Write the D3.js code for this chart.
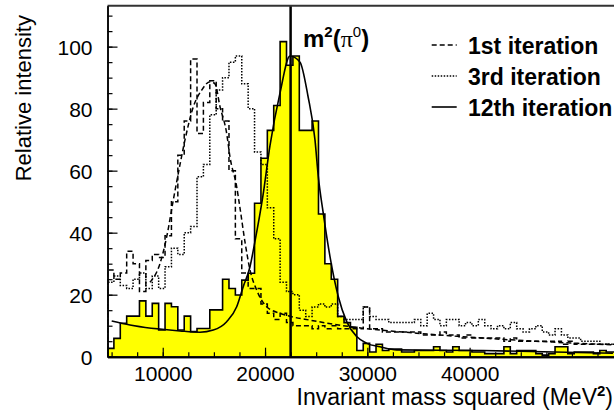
<!DOCTYPE html>
<html><head><meta charset="utf-8">
<script src="https://cdn.jsdelivr.net/npm/d3@7"></script>
<style>body{margin:0;background:#fff} svg{display:block} text{font-family:"Liberation Sans",Arial,Helvetica,sans-serif}</style>
</head><body><svg id="c" width="614" height="412"></svg>
<script>
// ---- data ----
const binStart = 4600, binWidth = 625;
const iter12 = [2.7,5.9,10.8,13.1,13.1,18,13.1,17.2,8.6,17.2,
  16.1,8.6,13.1,8.1,9.1,9.1,15.1,15.1,25,22,
  19.9,24.7,26.9,49.5,64,73,81,101.6,94,97,
  73,73,76,46,30,25,13,11,9.5,2,
  4.3,1.5,4,2,2.5,2.5,1.5,1.5,2,2,
  2,3.2,2,1.5,3.2,2,2,1.5,1.5,1,
  1,1,3.2,1,2,2,2,1,0.5,1,
  3.2,3.2,1,1.5,1.5,1.5,1,2,1.5,1.5];
const iter1 = [28,25,27,34,30,21,31,33,32,39,
  50,65,76,96,72,82,89,80,76,60,
  38,27,22,22,17,14,12,14,11,10,
  10,10,9,10,9,10,9,9,9,9,
  16,9,9,8,8,8,8,8,8,7,
  7,7,8,7,7,6,7,6,6,6,
  6,6,5,6,5,5,5,5,5,5,
  5,4,5,4,4,4,4,4,4,4];
const iter3 = [24,26,23,22,25,27,22,26,22,29,
  35,33,40,42,58,62,78,86,90,95,
  97,88,80,66,62,48,38,24,21,20,
  15,13,16,17,16,17,13,12,12,12,
  16,13,12,12,11,11,11,11,12,10,
  14,12,10,12,12,10,11,10,12,10,
  9,10,9,11,9,8,9,10,8,7,
  9,7,6,6,5,5,5,4,4,4];
const fit12X = [5010,6800,11690,13640,14940,16250,17230,17870,18530,18920,19800,20480,21460,22440,23420,24200,24880,25210,25690,26350,27160,27980,28960,29940,31240,32870,41300,54010];
const fit12Y = [11.5,10.2,8.3,7.9,8.6,11.3,16.1,22.6,29,35.5,52,68,85,97,95,84,70,58,46.3,32.3,19.4,11.3,6.5,4.3,3.2,2.2,2.0,1.1];
const fit1X = [8750,9730,10390,11030,11690,12180,12990,13810,14620,15110,15600,16250,16570,17230,17550,18040,18530,19180,20160,21460,22610,24390,28300,34820,41300,54010];
const fit1Y = [24,30,38.7,50.5,62,70,80.6,86,88.7,88,80.6,72,64.5,54.8,48,37,28,21.5,16.1,14,12.9,11.8,9.7,7.6,6,3.8];
const xTickLabels = [10000,20000,30000,40000];
const yTickLabels = [0,20,40,60,80,100];
const mPi0Sq = 22500;
const legendLabels = ["1st iteration","3rd iteration","12th iteration"];
const legendDash = ["5,3","1.5,1.5",null];

// ---- layout ----
const svg = d3.select("#c");
svg.append("rect").attr("width",614).attr("height",412).attr("fill","#fff");
const x = d3.scaleLinear().domain([4600, 54700]).range([107.5, 620]);
const y = d3.scaleLinear().domain([0, 113.2]).range([356.7, 5.7]);
svg.append("clipPath").attr("id","pc").append("rect")
  .attr("x",107.5).attr("y",5.7).attr("width",520).attr("height",351);
const g = svg.append("g").attr("clip-path","url(#pc)");

function histPts(vals){
  const p=[[binStart,0]];
  vals.forEach((v,i)=>p.push([binStart+i*binWidth,v]));
  p.push([binStart+vals.length*binWidth, vals[vals.length-1]]);
  p.push([binStart+vals.length*binWidth, 0]);
  return p;
}
const stepLine = d3.line().curve(d3.curveStepAfter).x(d=>x(d[0])).y(d=>y(d[1]));
const area = d3.area().curve(d3.curveStepAfter).x(d=>x(d[0])).y0(y(0)).y1(d=>y(d[1]));
const pts12 = iter12.map((v,i)=>[binStart+i*binWidth,v]); pts12.push([binStart+iter12.length*binWidth, iter12[iter12.length-1]]);
g.append("path").attr("d",area(pts12)).attr("fill","#ffff00");
g.append("path").attr("d",stepLine(histPts(iter12))).attr("fill","none").attr("stroke","#000").attr("stroke-width",1.6);
g.append("path").attr("d",stepLine(histPts(iter1))).attr("fill","none").attr("stroke","#000").attr("stroke-width",1.5).attr("stroke-dasharray","5,3");
g.append("path").attr("d",stepLine(histPts(iter3))).attr("fill","none").attr("stroke","#000").attr("stroke-width",1.5).attr("stroke-dasharray","1.5,1.5");
const curve = d3.line().curve(d3.curveMonotoneX).x(d=>x(d[0])).y(d=>y(d[1]));
g.append("path").attr("d",curve(fit1X.map((v,i)=>[v,fit1Y[i]]))).attr("fill","none").attr("stroke","#000").attr("stroke-width",1.5).attr("stroke-dasharray","5,3");
g.append("path").attr("d",curve(fit12X.map((v,i)=>[v,fit12Y[i]]))).attr("fill","none").attr("stroke","#000").attr("stroke-width",1.6);
// m^2(pi0) line
svg.append("line").attr("x1",x(mPi0Sq)).attr("x2",x(mPi0Sq)).attr("y1",y(0)).attr("y2",y(113.2)).attr("stroke","#000").attr("stroke-width",2.5);

// frame
svg.append("line").attr("x1",107.5).attr("x2",614).attr("y1",5.7).attr("y2",5.7).attr("stroke","#333").attr("stroke-width",2);

// axes
const minorX = d3.range(5000, 54000, 2500);
const xMinor = d3.axisBottom(x).tickValues(minorX).tickSizeInner(-4.5).tickSizeOuter(0).tickFormat("");
const xMajor = d3.axisBottom(x).tickValues(xTickLabels).tickSizeInner(-9).tickSizeOuter(0).tickFormat(d3.format("d"));
const gx1 = svg.append("g").attr("transform",`translate(0,${y(0)})`).call(xMinor);
const gx2 = svg.append("g").attr("transform",`translate(0,${y(0)})`).call(xMajor);
[gx1,gx2].forEach(a=>{a.selectAll(".tick line").attr("stroke","#000").attr("stroke-width",1.2); a.select(".domain").attr("stroke","#000").attr("stroke-width",2);});
gx2.selectAll(".tick text").attr("font-size",21).attr("fill","#000").attr("dy",0).attr("y",24);

const yMinor = d3.axisLeft(y).tickValues(d3.range(0,113,5)).tickSizeInner(-5).tickSizeOuter(0).tickFormat("");
const yMajor = d3.axisLeft(y).tickValues(yTickLabels).tickSizeInner(-10).tickSizeOuter(0).tickFormat(d3.format("d"));
const gy1 = svg.append("g").attr("transform","translate(107.5,0)").call(yMinor);
const gy2 = svg.append("g").attr("transform","translate(107.5,0)").call(yMajor);
[gy1,gy2].forEach(a=>{a.selectAll(".tick line").attr("stroke","#000").attr("stroke-width",1.2); a.select(".domain").attr("stroke","#000").attr("stroke-width",1.5);});
gy2.selectAll(".tick text").attr("font-size",21).attr("fill","#000").attr("x",-15).attr("dy","0.36em");

// titles
const xt = svg.append("text").attr("x",613).attr("y",405).attr("text-anchor","end").attr("font-size",23).attr("fill","#000");
xt.append("tspan").text("Invariant mass squared (MeV");
xt.append("tspan").text("2").attr("font-size",15).attr("font-weight","bold").attr("dy",-9);
xt.append("tspan").text(")").attr("dy",9);
svg.append("text").attr("transform","translate(31,15) rotate(-90)").attr("text-anchor","end").attr("font-size",22).attr("fill","#000").text("Relative intensity");

// m^2(pi0) label
const ml = svg.append("text").attr("x",303).attr("y",47).attr("font-size",24).attr("font-weight","bold").attr("fill","#000");
ml.append("tspan").text("m");
ml.append("tspan").text("2").attr("font-size",15).attr("dy",-10);
ml.append("tspan").text("(").attr("dy",10);
ml.append("tspan").text("π").attr("font-family","'Liberation Serif','Times New Roman',serif").attr("font-weight","normal");
ml.append("tspan").text("0").attr("font-size",15).attr("font-weight","normal").attr("dy",-10);
ml.append("tspan").text(")").attr("dy",10);

// legend
const lg = svg.append("g");
legendLabels.forEach((t,i)=>{
  const cy = 45 + i*31;
  const ln = lg.append("line").attr("x1",431.7).attr("x2",456.7).attr("y1",cy).attr("y2",cy).attr("stroke","#000").attr("stroke-width",1.6);
  if(legendDash[i]) ln.attr("stroke-dasharray",legendDash[i]);
  lg.append("text").attr("x",468).attr("y",cy+8.5).attr("font-size",23).attr("font-weight","bold").attr("fill","#000").text(t);
});
</script></body></html>
